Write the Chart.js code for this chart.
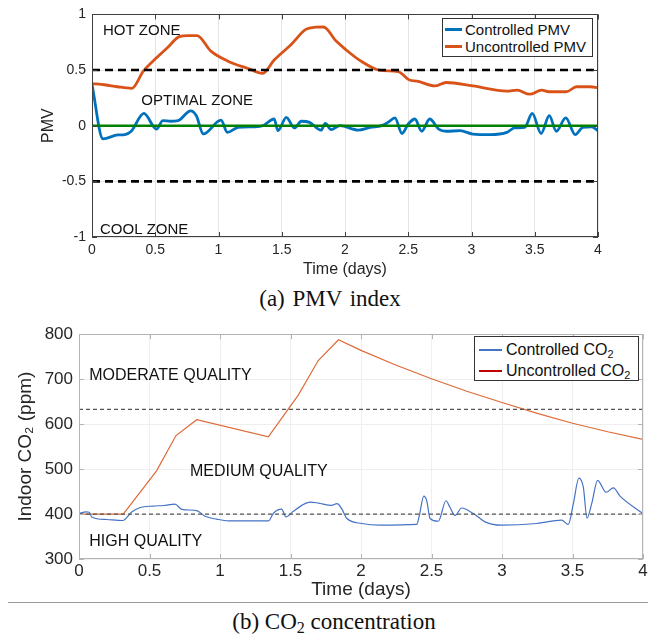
<!DOCTYPE html>
<html>
<head>
<meta charset="utf-8">
<script src="https://cdn.jsdelivr.net/npm/chart.js@4.4.0/dist/chart.umd.min.js"></script>
<style>
  body { margin: 0; background: #fff; width: 654px; height: 637px; position: relative; overflow: hidden;
         font-family: "Liberation Sans", Arial, sans-serif; }
  canvas { position: absolute; left: 0; }
  #pmvChart { top: 0; }
  #co2Chart { top: 318px; }
  .legend { position: absolute; background: #fff; border: 1px solid #333; box-sizing: border-box; padding-top: 2px; color: #111; }
  .legend .row { display: flex; align-items: center; white-space: nowrap; }
  .legend .swatch { display: inline-block; }
  .legend sub { font-size: 68%; vertical-align: -3px; line-height: 0; }
  #pmvLegend { left: 442px; top: 18px; width: 151px; height: 39px; font-size: 15px; }
  #pmvLegend .row { height: 17px; }
  #pmvLegend .swatch { width: 17px; height: 2.6px; margin: 0 3px 0 2px; }
  #co2Legend { left: 474px; top: 336px; width: 165px; height: 45px; font-size: 16px; }
  #co2Legend .row { height: 21px; }
  #co2Legend .swatch { width: 23px; height: 2px; margin: 0 4px 0 4px; }
  .caption { position: absolute; transform: translateX(-50%); white-space: nowrap; line-height: 22px;
             font-family: "Liberation Serif", "Times New Roman", serif; font-size: 23px; color: #111; }
  .caption sub { font-size: 70%; vertical-align: -4px; line-height: 0; }
  #capA { left: 330px; top: 288px; word-spacing: 2px; }
  #capB { left: 334px; top: 611px; }
  #sep { position: absolute; left: 8px; top: 602px; width: 640px; height: 1px; background: #9a9a9a; }
</style>
</head>
<body>
<canvas id="pmvChart" width="654" height="282"></canvas>
<canvas id="co2Chart" width="654" height="286"></canvas>
<div id="pmvLegend" class="legend"></div>
<div id="co2Legend" class="legend"></div>
<div id="sep"></div>
<div id="capA" class="caption">(a) PMV index</div>
<div id="capB" class="caption">(b) CO<sub>2</sub> concentration</div>

<script>
// ── Shared axis ticks ───────────────────────────────
const dayTicks = [0, 0.5, 1, 1.5, 2, 2.5, 3, 3.5, 4];
const pmvTicks = [-1, -0.5, 0, 0.5, 1];
const co2Ticks = [300, 400, 500, 600, 700, 800];

// ── PMV index ───────────────────────────────────────
const pmvCtrlDays = [0, 0.087, 0.205, 0.26, 0.31, 0.41, 0.51, 0.56, 0.62, 0.68, 0.78, 0.825, 0.88, 1.02, 1.07,
  1.155, 1.285, 1.35, 1.44, 1.47, 1.536, 1.6, 1.655, 1.72, 1.81, 1.845, 1.89, 1.96, 2.105, 2.2, 2.29, 2.34,
  2.395, 2.45, 2.5, 2.553, 2.606, 2.67, 2.74, 2.8, 2.91, 3.01, 3.146, 3.28, 3.34, 3.42, 3.48, 3.55, 3.615,
  3.67, 3.745, 3.82, 3.88, 3.95, 4.0];
const pmvCtrlVals = [0.37, -0.119, -0.083, -0.08, -0.05, 0.11, -0.03, 0.045, 0.04, 0.045, 0.134, 0.09, -0.074, 0.05, -0.06,
  -0.015, -0.01, 0, 0.06, -0.045, 0.075, -0.02, 0.04, 0.03, -0.04, 0.02, -0.035, 0, -0.04, -0.015, 0, 0.03,
  0.07, -0.07, 0.015, 0.06, -0.05, 0.06, -0.03, -0.05, -0.045, -0.075, -0.08, -0.06, -0.02, -0.015, 0.11, -0.07, 0.09,
  -0.05, 0.07, -0.08, -0.015, -0.01, -0.045];

const pmvUncDays = [0, 0.1, 0.2, 0.314, 0.406, 0.51, 0.6, 0.69, 0.76, 0.83, 0.94, 1.075, 1.23, 1.35, 1.44, 1.575,
  1.69, 1.77, 1.83, 1.93, 2.0, 2.12, 2.28, 2.42, 2.51, 2.57, 2.71, 2.8, 3.01, 3.28, 3.36, 3.46, 3.555, 3.61,
  3.75, 3.83, 3.94, 4.0];
const pmvUncVals = [0.378, 0.368, 0.35, 0.336, 0.49, 0.61, 0.705, 0.8, 0.81, 0.81, 0.67, 0.58, 0.515, 0.47, 0.59, 0.73,
  0.865, 0.885, 0.887, 0.76, 0.69, 0.585, 0.497, 0.485, 0.41, 0.4, 0.357, 0.388, 0.357, 0.31, 0.32, 0.283, 0.32, 0.305,
  0.305, 0.35, 0.35, 0.34];

const pmvComfortBounds = [0.5, -0.5];
const pmvNeutral = 0;

// ── Indoor CO2 (ppm) ────────────────────────────────
const co2CtrlDays = [0, 0.05, 0.073, 0.09, 0.196, 0.31, 0.374, 0.43, 0.527, 0.6, 0.68, 0.73, 0.835, 0.894, 0.977,
  1.06, 1.163, 1.343, 1.38, 1.437, 1.468, 1.52, 1.58, 1.638, 1.697, 1.79, 1.83, 1.863, 1.9, 2.005, 2.135, 2.395,
  2.414, 2.445, 2.466, 2.49, 2.548, 2.603, 2.63, 2.667, 2.714, 2.797, 2.88, 2.998, 3.246, 3.423, 3.47, 3.506,
  3.545, 3.577, 3.603, 3.636, 3.678, 3.738, 3.79, 3.837, 4.0];
const co2CtrlVals = [401, 404.6, 404, 393.6, 387.8, 385.6, 404.6, 414, 417.8, 419, 422, 410.5, 407.6, 395, 388.5,
  384.8, 385, 384.6, 402.4, 411, 393.6, 406, 419.3, 426.6, 424.4, 419.3, 423, 412, 390, 379, 375.3, 376.8,
  397, 440, 430, 390, 384, 429.6, 415.6, 397, 413.4, 401, 382.6, 375.3, 379, 386.3, 376.8, 423,
  480, 459.5, 391, 423, 475, 448.5, 458, 440, 401];

const co2UncDays = [0, 0.314, 0.55, 0.688, 0.835, 1.343, 1.555, 1.697, 1.84, 2.0, 2.25, 2.5, 2.75, 3.0, 3.25, 3.5, 3.75, 4.0];
const co2UncVals = [400, 400, 496, 574.6, 609.7, 571.6, 664.6, 741.5, 787.7, 764, 731, 701, 673, 648, 624, 602, 583, 566];

const co2Bounds = [400, 633];

// ── Helpers ─────────────────────────────────────────
const pts = (xs, ys) => xs.map((x, i) => ({ x, y: ys[i] }));
const flat = v => [{ x: dayTicks[0], y: v }, { x: dayTicks[dayTicks.length - 1], y: v }];
const useTicks = list => s => { s.ticks = list.map(v => ({ value: v })); };

// zone labels, axes box and inward tick marks (MATLAB look)
const framePlugin = {
  id: 'frame',
  beforeDatasetsDraw(chart, args, o) {
    const { ctx, scales: { x, y } } = chart;
    ctx.save();
    ctx.fillStyle = o.textColor;
    ctx.font = o.font;
    ctx.textBaseline = 'middle';
    ctx.textAlign = 'left';
    o.labels.forEach(l => ctx.fillText(l.text, x.getPixelForValue(l.x), y.getPixelForValue(l.y)));
    ctx.restore();
  },
  afterDatasetsDraw(chart, args, o) {
    const { ctx, chartArea: a, scales: { x, y } } = chart;
    ctx.save();
    ctx.strokeStyle = o.boxColor;
    ctx.lineWidth = 1;
    ctx.beginPath();
    x.ticks.forEach(t => {
      const px = Math.round(x.getPixelForValue(t.value)) + 0.5;
      ctx.moveTo(px, a.bottom); ctx.lineTo(px, a.bottom - o.tick);
      ctx.moveTo(px, a.top); ctx.lineTo(px, a.top + o.tick);
    });
    y.ticks.forEach(t => {
      const py = Math.round(y.getPixelForValue(t.value)) + 0.5;
      ctx.moveTo(a.left, py); ctx.lineTo(a.left + o.tick, py);
      ctx.moveTo(a.right, py); ctx.lineTo(a.right - o.tick, py);
    });
    ctx.stroke();
    ctx.strokeRect(Math.round(a.left) + 0.5, Math.round(a.top) + 0.5,
      Math.round(a.right - a.left) - 1, Math.round(a.bottom - a.top) - 1);
    ctx.restore();
  }
};

function buildLegend(el, items) {
  el.innerHTML = items.map(it =>
    `<div class="row"><span class="swatch" style="background:${it.color}"></span><span>${it.label}</span></div>`
  ).join('');
}

const tickColor = '#262626';

// ── (a) PMV chart ───────────────────────────────────
new Chart(document.getElementById('pmvChart'), {
  type: 'line',
  data: {
    datasets: [
      { label: 'Controlled PMV', data: pts(pmvCtrlDays, pmvCtrlVals), borderColor: '#0072BD', borderWidth: 2.8,
        cubicInterpolationMode: 'monotone', order: 3 },
      { label: 'Uncontrolled PMV', data: pts(pmvUncDays, pmvUncVals), borderColor: '#D95319', borderWidth: 2.8,
        cubicInterpolationMode: 'monotone', order: 4 },
      ...pmvComfortBounds.map(v => ({ data: flat(v), borderColor: '#000', borderWidth: 2.6, borderDash: [8, 5], order: 2 })),
      { data: flat(pmvNeutral), borderColor: '#008000', borderWidth: 2.6, order: 1 }
    ]
  },
  options: {
    responsive: false,
    animation: false,
    elements: { point: { radius: 0 }, line: { fill: false } },
    layout: { padding: { top: 13, right: 56, left: 0, bottom: 0 } },
    plugins: {
      legend: { display: false },
      tooltip: { enabled: false },
      frame: {
        textColor: '#111', font: '15px "Liberation Sans", Arial, sans-serif', boxColor: '#404040', tick: 5,
        labels: [
          { text: 'HOT ZONE', x: 0.087, y: 0.85 },
          { text: 'OPTIMAL ZONE', x: 0.39, y: 0.22 },
          { text: 'COOL ZONE', x: 0.063, y: -0.94 }
        ]
      }
    },
    scales: {
      x: {
        type: 'linear', min: 0, max: 4,
        afterBuildTicks: useTicks(dayTicks),
        afterFit: s => { s.height = 45; },
        grid: { color: '#e4e4e4', drawTicks: false },
        border: { display: false },
        ticks: { color: tickColor, font: { size: 14 }, padding: 5, maxRotation: 0, callback: v => String(v) },
        title: { display: true, text: 'Time (days)', color: tickColor, font: { size: 16 }, padding: { top: 0, bottom: 2.4 } }
      },
      y: {
        type: 'linear', min: -1, max: 1,
        afterBuildTicks: useTicks(pmvTicks),
        afterFit: s => { s.width = 92; },
        grid: { color: '#e4e4e4', drawTicks: false },
        border: { display: false },
        ticks: { color: tickColor, font: { size: 14 }, padding: 6, callback: v => String(v) },
        title: { display: true, text: 'PMV', color: tickColor, font: { size: 16 }, padding: { top: 39.4, bottom: 0 } }
      }
    }
  },
  plugins: [framePlugin]
});

// ── (b) CO2 chart ───────────────────────────────────
new Chart(document.getElementById('co2Chart'), {
  type: 'line',
  data: {
    datasets: [
      { label: 'Controlled CO₂', data: pts(co2CtrlDays, co2CtrlVals), borderColor: '#4472C4', borderWidth: 1.2,
        cubicInterpolationMode: 'monotone', order: 2 },
      { label: 'Uncontrolled CO₂', data: pts(co2UncDays, co2UncVals), borderColor: '#DD6A38', borderWidth: 1.2,
        tension: 0, order: 3 },
      ...co2Bounds.map(v => ({ data: flat(v), borderColor: '#555', borderWidth: 1.3, borderDash: [4, 3], order: 1 }))
    ]
  },
  options: {
    responsive: false,
    animation: false,
    elements: { point: { radius: 0 }, line: { fill: false } },
    layout: { padding: { top: 14, right: 11, left: 0, bottom: 0 } },
    plugins: {
      legend: { display: false },
      tooltip: { enabled: false },
      frame: {
        textColor: '#111', font: '16px "Liberation Sans", Arial, sans-serif', boxColor: '#b4b4b4', tick: 5,
        labels: [
          { text: 'MODERATE QUALITY', x: 0.073, y: 707 },
          { text: 'MEDIUM QUALITY', x: 0.787, y: 494.6 },
          { text: 'HIGH QUALITY', x: 0.073, y: 338.7 }
        ]
      }
    },
    scales: {
      x: {
        type: 'linear', min: 0, max: 4,
        afterBuildTicks: useTicks(dayTicks),
        afterFit: s => { s.height = 45; },
        grid: { color: '#efefef', drawTicks: false },
        border: { display: false },
        ticks: { color: tickColor, font: { size: 17 }, padding: 2, maxRotation: 0, callback: v => String(v) },
        title: { display: true, text: 'Time (days)', color: tickColor, font: { size: 19 }, padding: { top: 0, bottom: 2.6 } }
      },
      y: {
        type: 'linear', min: 300, max: 800,
        afterBuildTicks: useTicks(co2Ticks),
        afterFit: s => { s.width = 79; },
        grid: { color: '#efefef', drawTicks: false },
        border: { display: false },
        ticks: { color: tickColor, font: { size: 17 }, padding: 6, callback: v => String(v) },
        title: { display: true, text: 'Indoor CO₂ (ppm)', color: tickColor, font: { size: 19 }, padding: { top: 14.6, bottom: 0 } }
      }
    }
  },
  plugins: [framePlugin]
});

// ── Legends (MATLAB-style boxes inside the axes) ────
buildLegend(document.getElementById('pmvLegend'), [
  { label: 'Controlled PMV', color: '#0072BD' },
  { label: 'Uncontrolled PMV', color: '#D95319' }
]);
buildLegend(document.getElementById('co2Legend'), [
  { label: 'Controlled CO<sub>2</sub>', color: '#4472C4' },
  { label: 'Uncontrolled CO<sub>2</sub>', color: '#C00000' }
]);
</script>
</body>
</html>
